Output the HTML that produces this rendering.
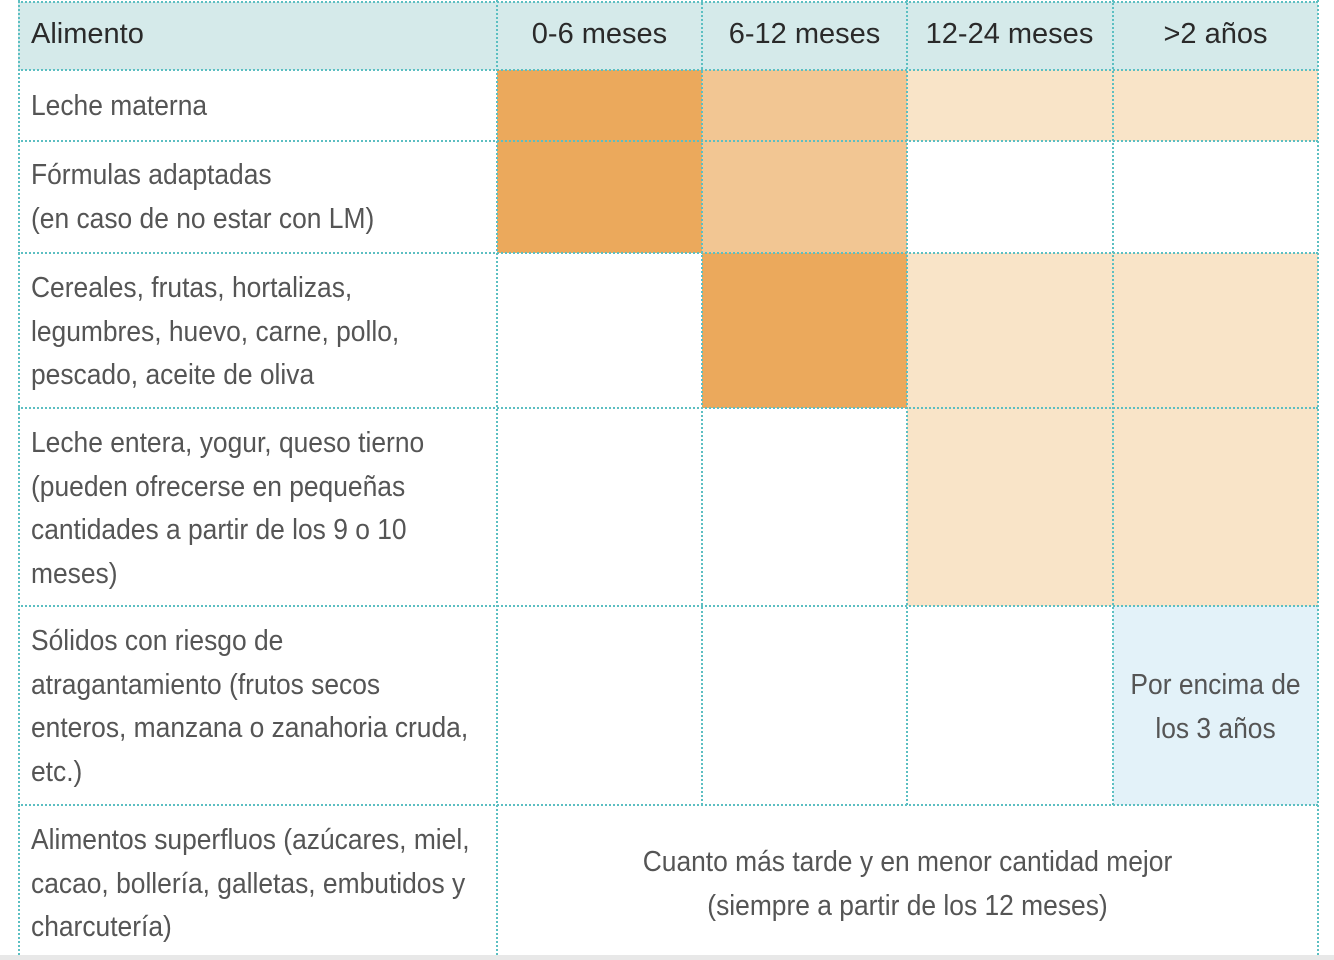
<!DOCTYPE html>
<html><head><meta charset="utf-8"><style>
body{margin:0;width:1334px;height:960px;background:#fff;position:relative;overflow:hidden;font-family:"Liberation Sans",sans-serif;}
.f{position:absolute}
.h{position:absolute;height:0;border-top:2px dotted #5cbfc2}
.v{position:absolute;width:0;border-left:2px dotted #5cbfc2}
.t{position:absolute;font-size:29px;line-height:43.5px;color:#555;white-space:nowrap;transform:scaleX(0.91);transform-origin:0 0}
.hd{position:absolute;font-size:29px;color:#2a2a2a;top:18px;white-space:nowrap}
.c{text-align:center;transform-origin:50% 0}
</style></head><body>
<div class="f" style="left:18px;top:2px;width:1300px;height:68px;background:#d5eaea"></div>
<div class="f" style="left:497px;top:70px;width:205px;height:183px;background:#eba95c"></div>
<div class="f" style="left:702px;top:70px;width:205px;height:183px;background:#f2c693"></div>
<div class="f" style="left:907px;top:70px;width:411px;height:71px;background:#f9e4c8"></div>
<div class="f" style="left:702px;top:253px;width:205px;height:155px;background:#eba95c"></div>
<div class="f" style="left:907px;top:253px;width:411px;height:353px;background:#f9e4c8"></div>
<div class="f" style="left:1113px;top:606px;width:205px;height:199px;background:#e3f2f9"></div>
<div class="f" style="left:0;top:955px;width:1334px;height:5px;background:#e8e8e8"></div>

<div class="h" style="left:18px;width:1300px;top:1px"></div>
<div class="h" style="left:18px;width:1300px;top:69px"></div>
<div class="h" style="left:18px;width:1300px;top:140px"></div>
<div class="h" style="left:18px;width:1300px;top:252px"></div>
<div class="h" style="left:18px;width:1300px;top:407px"></div>
<div class="h" style="left:18px;width:1300px;top:605px"></div>
<div class="h" style="left:18px;width:1300px;top:804px"></div>
<div class="v" style="left:18px;top:0;height:955px"></div>
<div class="v" style="left:496px;top:0;height:955px"></div>
<div class="v" style="left:701px;top:0;height:805px"></div>
<div class="v" style="left:906px;top:0;height:805px"></div>
<div class="v" style="left:1112px;top:0;height:805px"></div>
<div class="v" style="left:1317px;top:0;height:955px"></div>

<div class="hd" style="left:31px">Alimento</div>
<div class="hd c" style="left:497px;width:205px">0-6 meses</div>
<div class="hd c" style="left:702px;width:205px">6-12 meses</div>
<div class="hd c" style="left:907px;width:205px">12-24 meses</div>
<div class="hd c" style="left:1113px;width:205px">&gt;2 años</div>

<div class="t" style="left:31px;top:85px">Leche materna</div>
<div class="t" style="left:31px;top:154px">Fórmulas adaptadas<br>(en caso de no estar con LM)</div>
<div class="t" style="left:31px;top:267px">Cereales, frutas, hortalizas,<br>legumbres, huevo, carne, pollo,<br>pescado, aceite de oliva</div>
<div class="t" style="left:31px;top:422px">Leche entera, yogur, queso tierno<br>(pueden ofrecerse en pequeñas<br>cantidades a partir de los 9 o 10<br>meses)</div>
<div class="t" style="left:31px;top:620px">Sólidos con riesgo de<br>atragantamiento (frutos secos<br>enteros, manzana o zanahoria cruda,<br>etc.)</div>
<div class="t c" style="left:1113px;width:205px;top:664px">Por encima de<br>los 3 años</div>
<div class="t" style="left:31px;top:819px">Alimentos superfluos (azúcares, miel,<br>cacao, bollería, galletas, embutidos y<br>charcutería)</div>
<div class="t c" style="left:497px;width:821px;top:841px">Cuanto más tarde y en menor cantidad mejor<br>(siempre a partir de los 12 meses)</div>
</body></html>
